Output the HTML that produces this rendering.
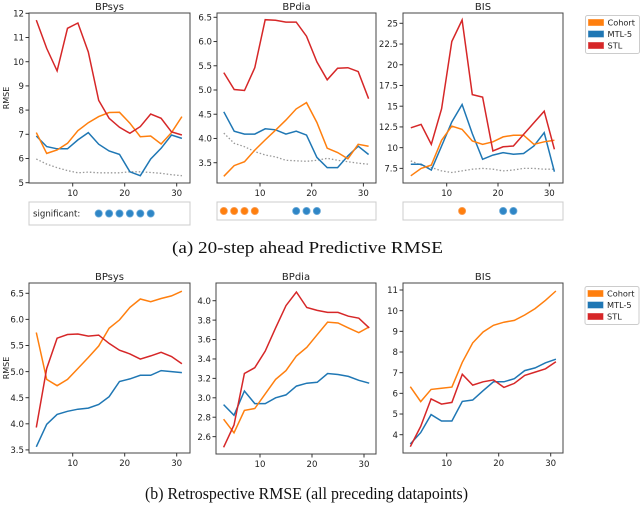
<!DOCTYPE html>
<html><head><meta charset="utf-8"><style>
body{margin:0;background:#fff;width:640px;height:525px;overflow:hidden}
svg text{font-family:"DejaVu Sans","Liberation Sans",sans-serif;fill:#222}
.cap{font-family:"Liberation Serif",serif;font-size:17px;fill:#111}
</style></head><body>
<svg id="fig" width="640" height="525" xmlns="http://www.w3.org/2000/svg"></svg>
<script>
const xs=[3,5,7,9,11,13,15,17,19,21,23,25,27,29,31];
const xTicks=[10,20,30];
// (a) BPsys
const aSysCohort=[7.07,6.21,6.35,6.63,7.15,7.48,7.73,7.9,7.91,7.46,6.9,6.93,6.6,7.07,7.73];
const aSysMTL=[6.93,6.49,6.4,6.4,6.77,7.07,6.59,6.31,6.17,5.45,5.29,5.98,6.42,6.97,6.83];
const aSysSTL=[11.72,10.55,9.62,11.38,11.6,10.4,8.4,7.66,7.29,7.04,7.32,7.84,7.66,7.1,6.97];
const aSysBase=[5.98,5.77,5.62,5.5,5.41,5.44,5.41,5.41,5.41,5.45,5.45,5.42,5.39,5.33,5.29];
const aSysTicks=[5,6,7,8,9,10,11,12];
const aSysSigBlue=[15,17,19,21,23,25];
// (a) BPdia
const aDiaCohort=[3.22,3.44,3.52,3.76,3.97,4.17,4.38,4.61,4.74,4.33,3.8,3.71,3.58,3.88,3.84];
const aDiaMTL=[4.55,4.15,4.09,4.09,4.2,4.18,4.09,4.15,4.07,3.61,3.4,3.4,3.64,3.84,3.67];
const aDiaSTL=[5.36,5.01,4.99,5.46,6.45,6.44,6.4,6.4,6.11,5.58,5.21,5.45,5.46,5.38,4.82];
const aDiaBase=[4.11,3.9,3.83,3.73,3.66,3.62,3.55,3.54,3.53,3.55,3.59,3.55,3.52,3.49,3.47];
const aDiaTicks=[3.5,4.0,4.5,5.0,5.5,6.0,6.5];
const aDiaSigOrange=[3,5,7,9];
const aDiaSigBlue=[17,19,21];
// (a) BIS
const aBisCohort=[6.6,7.5,7.9,10.9,12.6,12.2,10.8,10.4,10.7,11.3,11.5,11.5,10.4,10.7,10.9];
const aBisMTL=[8.0,8.0,7.3,10.2,13.1,15.2,11.7,8.6,9.1,9.4,9.2,9.3,10.2,11.8,7.1];
const aBisSTL=[12.4,12.8,10.4,14.7,22.8,25.4,16.4,16.1,9.6,10.1,10.2,11.6,13.0,14.4,9.8];
const aBisBase=[8.4,7.9,7.6,7.2,7.0,7.2,7.4,7.5,7.4,7.2,7.3,7.5,7.5,7.4,7.4];
const aBisTicks=[7.5,10,12.5,15,17.5,20,22.5,25];
const aBisSigOrange=[13];
const aBisSigBlue=[21,23];
// (b) BPsys
const bSysCohort=[5.75,4.85,4.73,4.85,5.06,5.27,5.49,5.83,5.99,6.23,6.39,6.34,6.4,6.45,6.54];
const bSysMTL=[3.56,3.99,4.18,4.24,4.28,4.3,4.37,4.52,4.81,4.86,4.93,4.93,5.02,5.0,4.98];
const bSysSTL=[3.93,5.06,5.64,5.71,5.72,5.68,5.7,5.54,5.41,5.34,5.24,5.3,5.37,5.29,5.15];
const bSysTicks=[3.5,4.0,4.5,5.0,5.5,6.0,6.5];
// (b) BPdia
const bDiaCohort=[2.78,2.64,2.87,2.89,3.04,3.19,3.28,3.43,3.52,3.65,3.78,3.77,3.72,3.67,3.73];
const bDiaMTL=[2.93,2.82,3.07,2.94,2.94,3.0,3.03,3.12,3.15,3.16,3.25,3.24,3.22,3.18,3.15];
const bDiaSTL=[2.49,2.72,3.25,3.31,3.48,3.72,3.95,4.09,3.93,3.9,3.88,3.88,3.84,3.82,3.72];
const bDiaTicks=[2.6,2.8,3.0,3.2,3.4,3.6,3.8,4.0];
// (b) BIS
const bBisCohort=[6.32,5.6,6.19,6.25,6.3,7.5,8.44,8.97,9.29,9.44,9.53,9.79,10.1,10.5,10.95];
const bBisMTL=[3.55,4.1,4.97,4.66,4.66,5.61,5.68,6.13,6.56,6.56,6.71,7.1,7.23,7.48,7.65];
const bBisSTL=[3.42,4.4,5.73,5.48,5.56,6.92,6.4,6.56,6.65,6.29,6.48,6.87,7.03,7.19,7.53];
const bBisTicks=[4,5,6,7,8,9,10,11];

const NS="http://www.w3.org/2000/svg";
const svg=document.getElementById('fig');
const C={o:'#ff7f0e',b:'#1f77b4',r:'#d62728'};
const FS=8.6;
function el(t,a,p){const e=document.createElementNS(NS,t);for(const k in a)e.setAttribute(k,a[k]);(p||svg).appendChild(e);return e;}
function txt(s,a,p){const e=el('text',a,p);e.textContent=s;return e;}
function fmt(v,step){return step<1?v.toFixed(1):String(v);}

function panel(name,box,xmap,ymap,ticks,series,title,ylabel){
  const g=el('g',{});
  
  
  const X=v=>xmap[0]+(v-xmap[1])*xmap[2];
  const Y=v=>ymap[0]+(v-ymap[1])*ymap[2];
  const fr=el('rect',{x:box[0],y:box[1],width:box[2]-box[0],height:box[3]-box[1],fill:'none',stroke:'#444','stroke-width':1},g);
  
  
  const step=ticks[1]-ticks[0];
  ticks.forEach(t=>{
    const y=Y(t);
    el('line',{x1:box[0]-3.5,x2:box[0],y1:y,y2:y,stroke:'#333'},g);
    const l=txt(fmt(t,step),{x:box[0]-5,y:y+3.2,'font-size':FS,'text-anchor':'end'},g);
    
    
  });
  xTicks.forEach(t=>{
    const x=X(t);
    el('line',{x1:x,x2:x,y1:box[3],y2:box[3]+3.5,stroke:'#333'},g);
    const l=txt(String(t),{x:x,y:box[3]+13,'font-size':FS,'text-anchor':'middle'},g);
    
    
  });
  const tt=txt(title,{x:(box[0]+box[2])/2,y:box[1]-3,'font-size':10,'text-anchor':'middle'},g);
  
  
  if(ylabel){
    const cy=(box[1]+box[3])/2;
    const yl=txt('RMSE',{x:9,y:cy,'font-size':8,'text-anchor':'middle',transform:`rotate(-90 9 ${cy})`},g);
    
    
  }
  series.forEach(s=>{
    const pts=xs.map((x,i)=>X(x).toFixed(1)+','+Y(s.v[i]).toFixed(1)).join(' ');
    const a={points:pts,fill:'none',stroke:s.c,'stroke-width':s.dash?1.3:1.5};
    if(s.dash)a['stroke-dasharray']='1.5,2';
    const pl=el('polyline',a,g);
    
    
  });
  return X;
}
function sig(X,box,label,orange,blue){
  const r=el('rect',{x:box[0],y:box[1],width:box[2]-box[0],height:box[3]-box[1],fill:'#fff',stroke:'#ccc'});
  
  
  const cy=(box[1]+box[3])/2;
  if(label){const t=txt(label,{x:box[0]+4,y:cy+3.2,'font-size':FS});
    
    }
  orange.forEach(x=>{const c=el('circle',{cx:X(x),cy:cy,r:3.6,fill:C.o,stroke:'#f9a05a','stroke-width':0.8});
    
    });
  blue.forEach(x=>{const c=el('circle',{cx:X(x),cy:cy,r:3.6,fill:'#2f86c6',stroke:'#6aaad8','stroke-width':0.8});
    
    });
}
function legend(x,y){
  const g=el('g',{});
  
  
  el('rect',{x:x,y:y,width:54,height:38,fill:'#fff',stroke:'#ccc',rx:2},g);
  [['Cohort',C.o],['MTL-5',C.b],['STL',C.r]].forEach((e,i)=>{
    const yy=y+7+i*11.5;
    const p=el('rect',{x:x+3,y:yy-3,width:15,height:6,fill:e[1],stroke:e[1],'stroke-opacity':0.6},g);
    
    
    txt(e[0],{x:x+22,y:yy+3.2,'font-size':8.2},g);
  });
}
const top3=[13,183];
let X1=panel('panel-a-bpsys',[29,top3[0],190,top3[1]],[72.7,10,5.2],[13.3,12,-24.2],aSysTicks,
 [{v:aSysBase,c:'#999',dash:1,n:'baseline-line'},{v:aSysMTL,c:C.b,n:'mtl-line'},{v:aSysCohort,c:C.o,n:'cohort-line'},{v:aSysSTL,c:C.r,n:'stl-line'}],'BPsys',true);
let X2=panel('panel-a-bpdia',[217,top3[0],376,top3[1]],[260,10,5.17],[17.3,6.5,-48.47],aDiaTicks,
 [{v:aDiaBase,c:'#999',dash:1,n:'baseline-line'},{v:aDiaMTL,c:C.b,n:'mtl-line'},{v:aDiaCohort,c:C.o,n:'cohort-line'},{v:aDiaSTL,c:C.r,n:'stl-line'}],'BPdia',false);
let X3=panel('panel-a-bis',[403,top3[0],563,top3[1]],[446.7,10,5.13],[23.3,25,-8.29],aBisTicks,
 [{v:aBisBase,c:'#999',dash:1,n:'baseline-line'},{v:aBisMTL,c:C.b,n:'mtl-line'},{v:aBisCohort,c:C.o,n:'cohort-line'},{v:aBisSTL,c:C.r,n:'stl-line'}],'BIS',false);
sig(X1,[29,202,190,225],'significant:',[],aSysSigBlue);
sig(X2,[217,202,376,220],'',aDiaSigOrange,aDiaSigBlue);
sig(X3,[403,202,563,220],'',aBisSigOrange,aBisSigBlue);
legend(585.5,15.5);
const ca=txt('(a) 20-step ahead Predictive RMSE',{x:172,y:253,class:'cap',textLength:271,lengthAdjust:'spacingAndGlyphs'});


panel('panel-b-bpsys',[29,283,190,453],[72.7,10,5.2],[293.3,6.5,-52.2],bSysTicks,
 [{v:bSysMTL,c:C.b,n:'mtl-line'},{v:bSysCohort,c:C.o,n:'cohort-line'},{v:bSysSTL,c:C.r,n:'stl-line'}],'BPsys',true);
panel('panel-b-bpdia',[216,283,376,454],[260,10,5.2],[300.7,4.0,-97.1],bDiaTicks,
 [{v:bDiaMTL,c:C.b,n:'mtl-line'},{v:bDiaCohort,c:C.o,n:'cohort-line'},{v:bDiaSTL,c:C.r,n:'stl-line'}],'BPdia',false);
panel('panel-b-bis',[403,283,563,453],[446.7,10,5.2],[290,11,-20.67],bBisTicks,
 [{v:bBisMTL,c:C.b,n:'mtl-line'},{v:bBisCohort,c:C.o,n:'cohort-line'},{v:bBisSTL,c:C.r,n:'stl-line'}],'BIS',false);
legend(585,286.5);
const cb=txt('(b) Retrospective RMSE (all preceding datapoints)',{x:145,y:499,class:'cap',textLength:323,lengthAdjust:'spacingAndGlyphs'});


</script>
</body></html>
